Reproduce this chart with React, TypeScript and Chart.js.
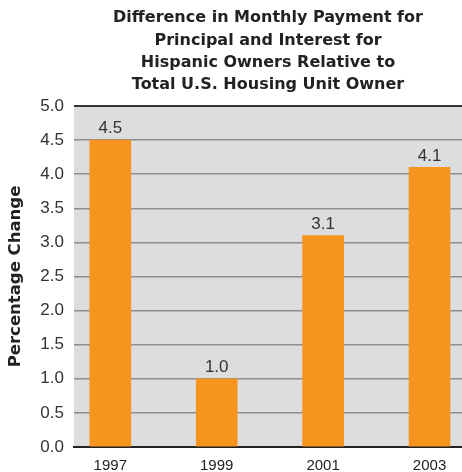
import React, { useEffect, useRef } from "react";
import { Chart, registerables } from "chart.js";

Chart.register(...registerables);

const years = [1997, 1999, 2001, 2003];
const values = [4.5, 1.0, 3.1, 4.1];
const yTicks = [0, 0.5, 1, 1.5, 2, 2.5, 3, 3.5, 4, 4.5, 5];
const titleLines = [
  "Difference in Monthly Payment for",
  "Principal and Interest for",
  "Hispanic Owners Relative to",
  "Total U.S. Housing Unit Owner",
];
const yTitle = "Percentage Change";

const FONT = "'Liberation Sans', Arial, Helvetica, sans-serif";
const BOLD_FONT = "'DejaVu Sans', 'Liberation Sans', Arial, sans-serif";

const bgPlugin = {
  id: "plotBg",
  beforeDraw(chart: any) {
    const { ctx, chartArea } = chart;
    ctx.save();
    ctx.fillStyle = "#dcdddf";
    ctx.fillRect(chartArea.left, chartArea.top, chartArea.right - chartArea.left, chartArea.bottom - chartArea.top);
    ctx.restore();
  },
};

const labelPlugin = {
  id: "valueLabels",
  afterDatasetsDraw(chart: any) {
    const { ctx } = chart;
    const meta = chart.getDatasetMeta(0);
    ctx.save();
    ctx.fillStyle = "#333333";
    ctx.font = `17px ${FONT}`;
    ctx.textAlign = "center";
    ctx.textBaseline = "bottom";
    meta.data.forEach((el: any, i: number) => {
      ctx.fillText(values[i].toFixed(1), el.x, el.y - 3);
    });
    ctx.restore();
  },
};

export default function App() {
  const ref = useRef<HTMLCanvasElement | null>(null);
  useEffect(() => {
    if (!ref.current) return;
    const chart = new Chart(ref.current, {
      type: "bar",
      data: {
        datasets: [
          {
            data: years.map((y, i) => ({ x: y, y: values[i] })),
            backgroundColor: "#f7941d",
            barThickness: 41,
          },
        ],
      },
      options: {
        animation: false,
        responsive: true,
        maintainAspectRatio: false,
        layout: { padding: 0 },
        plugins: {
          legend: { display: false },
          tooltip: { enabled: false },
          title: {
            display: true,
            text: titleLines,
            fullSize: false,
            color: "#222222",
            font: { family: BOLD_FONT, size: 16, weight: "bold", lineHeight: 1.39 },
            padding: { top: 7, bottom: 10 },
          },
        },
        scales: {
          x: {
            type: "linear",
            offset: false,
            min: 1996.318,
            max: 2003.61,
            afterBuildTicks(scale: any) {
              scale.ticks = years.map((v) => ({ value: v }));
            },
            afterFit(scale: any) {
              scale.height = 25;
            },
            ticks: {
              color: "#222222",
              font: { family: FONT, size: 15 },
              padding: 10,
              maxRotation: 0,
              autoSkip: false,
              callback: (v: any) => String(v),
            },
            grid: { display: false, drawTicks: false },
            border: { display: true, color: "#222222", width: 2 },
          },
          y: {
            min: 0,
            max: 5,
            afterBuildTicks(scale: any) {
              scale.ticks = yTicks.map((v) => ({ value: v }));
            },
            afterFit(scale: any) {
              scale.width = 74;
            },
            ticks: {
              color: "#333333",
              font: { family: FONT, size: 17 },
              padding: 10,
              callback: (v: any) => Number(v).toFixed(1),
            },
            grid: {
              drawTicks: false,
              color: (c: any) => (c.tick && c.tick.value === 5 ? "#333333" : "#8e8e8e"),
              lineWidth: (c: any) => (c.tick && c.tick.value === 5 ? 2 : 1.5),
            },
            border: { display: false },
            title: {
              display: true,
              text: yTitle,
              color: "#222222",
              font: { family: BOLD_FONT, size: 16.5, weight: "bold" },
              padding: { top: 6, bottom: 2 },
            },
          },
        },
      },
      plugins: [bgPlugin, labelPlugin],
    });
    return () => chart.destroy();
  }, []);
  return (
    <div style={{ position: "fixed", left: 0, top: 0, width: 462, height: 472 }}>
      <canvas ref={ref} />
    </div>
  );
}
